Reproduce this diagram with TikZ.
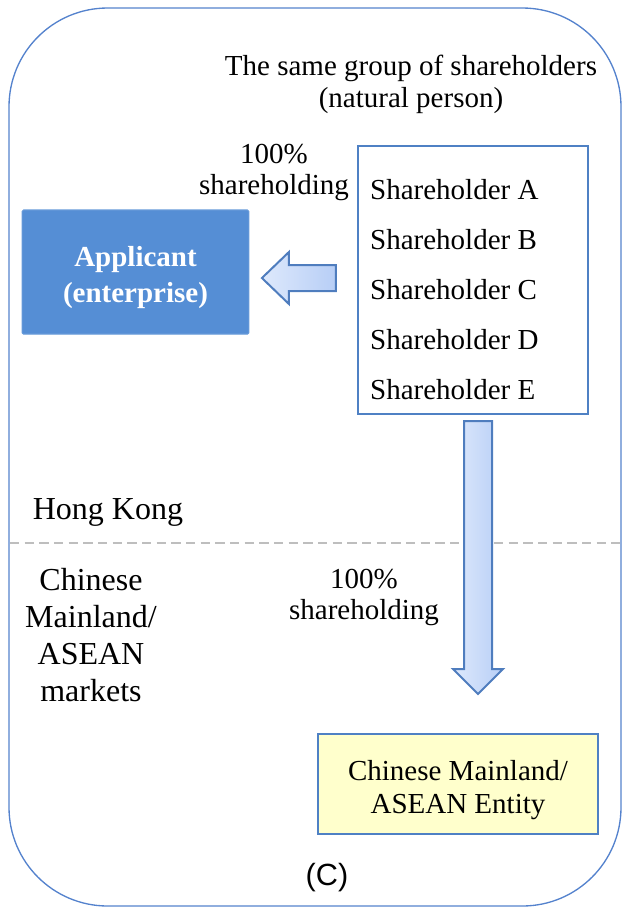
\documentclass[tikz,border=0pt]{standalone}
\usepackage{fontspec}
\setmainfont{Liberation Serif}
\newfontfamily\labelsans{Liberation Sans}
\usetikzlibrary{calc}
\tikzset{
  pixel-grid/.style={x=0.75pt,y=-0.75pt},
  txt/.style={
    inner sep=0pt,
    align=center,
    font=\fontsize{21.75}{24}\selectfont
  },
  frame/.style={draw=frameblue, line width=1pt, rounded corners=74pt},
  box-outline/.style={draw=boxblue, line width=1.6pt, inner sep=0pt},
  box-applicant/.style={box-outline, draw=applblue!90!white, fill=applblue, line width=0.8pt,
    rounded corners=1pt},
  box-entity/.style={box-outline, fill=entyellow},
  block-arrow/.style={draw=arrowedge, line width=1.5pt, line join=miter,
    left color=arrowlight, right color=arrowdark},
  split-line/.style={draw=splitgray, line width=1.2pt, dash pattern=on 7pt off 4pt}
}
\definecolor{frameblue}{RGB}{84,130,205}
\definecolor{boxblue}{RGB}{79,129,196}
\definecolor{applblue}{RGB}{85,142,213}
\definecolor{entyellow}{RGB}{255,255,204}
\definecolor{arrowedge}{RGB}{79,125,190}
\definecolor{arrowlight}{RGB}{222,233,252}
\definecolor{arrowdark}{RGB}{183,206,246}
\definecolor{splitgray}{RGB}{190,190,190}

\begin{document}
\begin{tikzpicture}[pixel-grid]
  \useasboundingbox (0,0) rectangle (627,908);
  % outer frame
  \draw[frame] (9,8) rectangle (621,906);

  % shareholders
  \node[txt] (group) at (411,84) {The same group of shareholders\\(natural person)};
  \node[box-outline, minimum width=172.5pt, minimum height=201pt] (sh) at (473,280) {};
  \node[txt, align=left, font=\fontsize{21.75}{37.5}\selectfont, anchor=west] (sh-names)
    at ($(sh.west)+(13,10)$)
    {Shareholder A\\Shareholder B\\Shareholder C\\Shareholder D\\Shareholder E};

  % applicant in Hong Kong
  \node[box-applicant, minimum width=170pt, minimum height=93pt] (appl) at (135.5,272) {};
  \node[txt, text=white, font=\fontsize{21.75}{27}\selectfont\bfseries] (appl-text)
    at ($(appl.center)+(0,6)$) {Applicant\\(enterprise)};
  \node[txt, font=\fontsize{21.75}{23.25}\selectfont] (share-top) at (274,172) {100\%\\shareholding};
  \draw[block-arrow] ($(sh.west)+(-21,-15)$) -- ++(-47,0) -- ++(0,-13) -- ++(-27,26)
    -- ++(27,26) -- ++(0,-13) -- ++(47,0) -- cycle;

  % border between the two regions
  \coordinate (split-w) at (10,543);
  \coordinate (split-e) at (620,543);
  \draw[split-line] (split-w) -- (split-e);
  \node[txt, font=\fontsize{24}{27}\selectfont] (hk) at (108,512) {Hong Kong};
  \node[txt, font=\fontsize{24}{27.75}\selectfont] (markets) at (91,635)
    {Chinese\\Mainland/\\ASEAN\\markets};

  % entity in the markets
  \node[box-entity, minimum width=210pt, minimum height=75pt] (entity) at (458,784) {};
  \node[txt, font=\fontsize{21.75}{25}\selectfont] (entity-text)
    at ($(entity.center)+(0,6)$) {Chinese Mainland/\\ASEAN Entity};
  \node[txt, font=\fontsize{21.75}{23.25}\selectfont] (share-bot) at (364,597) {100\%\\shareholding};
  \draw[block-arrow] ($(sh.south)+(-9,6)$) -- ++(0,248) -- ++(-11,0) -- ++(25,25)
    -- ++(25,-25) -- ++(-11,0) -- ++(0,-248) -- cycle;

  \node[txt, font=\labelsans\fontsize{23}{26}\selectfont] (caption) at (327,878) {(C)};
\end{tikzpicture}
\end{document}
